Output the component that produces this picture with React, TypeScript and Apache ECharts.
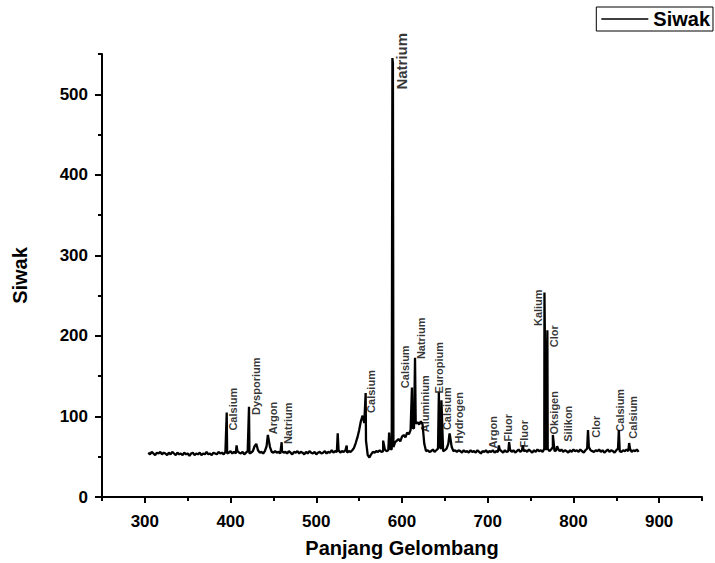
import React, { useEffect, useRef } from "react";
import * as echarts from "echarts";

// Regular sampling of the spectrum (nm)
const wlStart = 304;
const wlStep = 2;

// Intensity, one value every 2 nm from 304 to 876 nm
const baseline: number[] = [
  55, 53, 56, 54, 52, 55, 54, 56, 53, 55, // 304-322
  54, 52, 55, 53, 56, 54, 52, 55, 53, 54, // 324-342
  52, 55, 53, 54, 51, 54, 55, 52, 54, 53, // 344-362
  55, 52, 54, 53, 56, 53, 54, 52, 55, 54, // 364-382
  53, 56, 54, 55, 53, 56, 54, 55, 57, 54, // 384-402
  56, 54, 57, 55, 54, 56, 53, 55, 57, 54, // 404-422
  55, 57, 63, 66, 58, 55, 56, 54, 57, 63, // 424-442
  74, 62, 56, 55, 57, 55, 56, 54, 57, 55, // 444-462
  56, 54, 57, 55, 53, 56, 55, 57, 54, 56, // 464-482
  55, 53, 56, 54, 57, 55, 54, 56, 53, 55, // 484-502
  56, 54, 55, 57, 54, 56, 55, 58, 55, 57, // 504-522
  56, 58, 55, 57, 56, 58, 55, 57, 56, 58, // 524-542
  61, 67, 74, 83, 94, 101, 92, 70, 52, 49, // 544-562
  53, 56, 55, 57, 56, 58, 56, 57, 59, 57, // 564-582
  58, 60, 59, 62, 68, 70, 72, 69, 75, 77, // 584-602
  74, 80, 78, 83, 86, 85, 91, 93, 90, 94, // 604-622
  90, 66, 57, 58, 56, 57, 59, 56, 58, 60, // 624-642
  62, 60, 57, 58, 60, 66, 76, 62, 57, 58, // 644-662
  56, 58, 57, 55, 58, 56, 57, 55, 58, 56, // 664-682
  57, 55, 58, 56, 54, 57, 56, 58, 55, 57, // 684-702
  56, 58, 55, 57, 56, 59, 57, 55, 58, 56, // 704-722
  57, 59, 56, 58, 55, 57, 59, 56, 58, 57, // 724-742
  58, 56, 59, 57, 55, 58, 56, 59, 57, 58, // 744-762
  56, 60, 58, 60, 57, 59, 62, 57, 58, 60, // 764-782
  57, 59, 56, 58, 57, 55, 58, 56, 59, 57, // 784-802
  58, 56, 59, 57, 55, 58, 60, 62, 58, 57, // 804-822
  56, 58, 57, 59, 56, 58, 55, 57, 59, 56, // 824-842
  58, 57, 55, 58, 60, 57, 56, 58, 57, 59, // 844-862
  57, 60, 56, 58, 57, 59, 56, // 864-876
];

// Emission lines: [wavelength nm, intensity]
const spikes: [number, number][] = [
  [395.5, 105], [407, 64], [421.5, 112], [443.5, 77], [459.6, 68],
  [525, 79], [535.5, 64], [557.6, 129], [578, 70], [585, 80],
  [588.8, 545], [589.4, 538], [611.6, 136], [615.2, 173], [643, 130],
  [646, 120], [655.5, 79], [713, 64], [725, 68], [741, 64],
  [766.2, 254], [769.6, 207], [776, 77], [781, 63], [817, 83],
  [853, 83], [865, 67],
];

// Peak names and where their text sits (wavelength, intensity)
const labelNames = [
  "Calsium", "Dysporium", "Argon", "Natrium", "Calsium", "Natrium",
  "Calsium", "Natrium", "Aluminium", "Europium", "Calsium", "Hydrogen",
  "Argon", "Fluor", "Fluor", "Kalium", "Clor", "Oksigen", "Silikon",
  "Clor", "Calsium", "Calsium",
];
const labelWl = [
  403.4, 429.7, 449, 466.5, 563.9, 599.5,
  603.6, 622.2, 626.3, 643.2, 652.6, 666,
  706.2, 723.2, 742.4, 758.2, 776.8, 777.4, 793.8,
  826.4, 853.8, 869,
];
const labelY = [
  109, 137.5, 98, 91.5, 131, 541,
  161.7, 197, 115.8, 160.5, 109.6, 98.4,
  80.4, 86, 78.5, 235, 199.6, 104.6, 91,
  87.2, 107.7, 99,
];
const mainLabelIndex = 5;

const xMajorTicks = [300, 400, 500, 600, 700, 800, 900];
const xMinorTicks = [250, 350, 450, 550, 650, 750, 850, 950];
const yMajorTicks = [0, 100, 200, 300, 400, 500];
const yMinorTicks = [50, 150, 250, 350, 450, 550];

const seriesName = "Siwak";
const xName = "Panjang Gelombang";
const yName = "Siwak";

const FONT = "'Liberation Sans', Arial, Helvetica, sans-serif";

export default function App() {
  const ref = useRef<HTMLDivElement>(null);
  useEffect(() => {
    if (!ref.current) return;
    const chart = echarts.init(ref.current, undefined, { renderer: "svg" });
    const lineData = baseline
      .map((v, i) => [wlStart + i * wlStep, v] as [number, number])
      .concat(spikes)
      .sort((a, b) => a[0] - b[0]);

    const labelData = labelNames.map((n, i) => ({
      name: n,
      value: [labelWl[i], labelY[i]],
      label: i === mainLabelIndex ? { fontSize: 15 } : undefined,
    }));

    const axisLineStyle = { color: "#000", width: 2 };
    const tickLabel = {
      fontSize: 17,
      fontWeight: "bold" as const,
      color: "#000",
      fontFamily: FONT,
    };
    const nameStyle = {
      fontSize: 20,
      fontWeight: "bold" as const,
      color: "#000",
      fontFamily: FONT,
    };

    chart.setOption({
      animation: false,
      backgroundColor: "#fff",
      grid: { left: 102, right: 13, top: 54, bottom: 66, containLabel: false },
      legend: {
        show: true,
        data: [{ name: seriesName, icon: "rect" }],
        right: 2,
        top: 7,
        orient: "horizontal",
        padding: [2, 3, 2, 5],
        borderColor: "#000",
        borderWidth: 1,
        backgroundColor: "#fff",
        itemWidth: 47,
        itemHeight: 1.5,
        textStyle: { ...nameStyle, lineHeight: 20 },
        itemStyle: { color: "#000", borderWidth: 0 },
      },
      xAxis: [
        {
          type: "value",
          min: 250,
          max: 950,
          position: "bottom",
          axisLine: { show: true, onZero: false, lineStyle: axisLineStyle },
          axisTick: {
            show: true,
            customValues: xMajorTicks,
            length: 6,
            lineStyle: axisLineStyle,
          },
          axisLabel: { customValues: xMajorTicks, margin: 16, ...tickLabel },
          splitLine: { show: false },
          name: xName,
          nameLocation: "middle",
          nameGap: 41,
          nameTextStyle: nameStyle,
        },
        {
          type: "value",
          min: 250,
          max: 950,
          position: "bottom",
          axisLine: { show: false, onZero: false },
          axisTick: {
            show: true,
            customValues: xMinorTicks,
            length: 4,
            lineStyle: axisLineStyle,
          },
          axisLabel: { show: false },
          splitLine: { show: false },
        },
      ],
      yAxis: [
        {
          type: "value",
          min: 0,
          max: 550,
          position: "left",
          axisLine: { show: true, onZero: false, lineStyle: axisLineStyle },
          axisTick: {
            show: true,
            customValues: yMajorTicks,
            length: 7,
            lineStyle: axisLineStyle,
          },
          axisLabel: { customValues: yMajorTicks, margin: 14, ...tickLabel },
          splitLine: { show: false },
          name: yName,
          nameLocation: "middle",
          nameGap: 72,
          nameRotate: 90,
          nameTextStyle: nameStyle,
        },
        {
          type: "value",
          min: 0,
          max: 550,
          position: "left",
          axisLine: { show: false, onZero: false },
          axisTick: {
            show: true,
            customValues: yMinorTicks,
            length: 4,
            lineStyle: axisLineStyle,
          },
          axisLabel: { show: false },
          splitLine: { show: false },
        },
      ],
      series: [
        {
          type: "line",
          name: seriesName,
          data: lineData,
          xAxisIndex: 0,
          yAxisIndex: 0,
          symbol: "none",
          showSymbol: false,
          lineStyle: { color: "#000", width: 2.3 },
          itemStyle: { color: "#000" },
          z: 3,
        },
        {
          type: "scatter",
          name: "peakLabels",
          xAxisIndex: 0,
          yAxisIndex: 0,
          data: labelData,
          symbolSize: 1,
          silent: true,
          itemStyle: { color: "transparent" },
          label: {
            show: true,
            position: "inside",
            formatter: "{b}",
            rotate: 90,
            align: "center",
            verticalAlign: "middle",
            fontSize: 11,
            fontWeight: "bold",
            color: "#000",
            fontFamily: FONT,
          },
          z: 5,
        },
      ],
    });
    return () => chart.dispose();
  }, []);
  return (
    <div
      ref={ref}
      style={{ position: "fixed", left: 0, top: 0, width: 715, height: 563, background: "#fff" }}
    />
  );
}
